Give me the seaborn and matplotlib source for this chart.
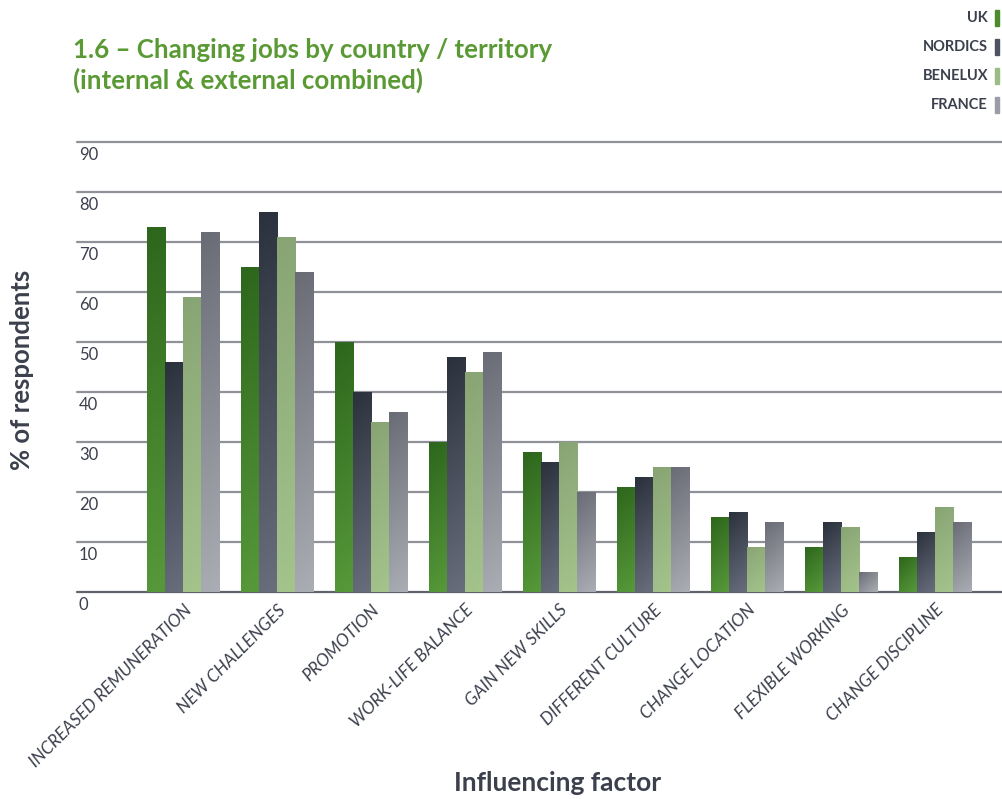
import numpy as np
import pandas as pd
import matplotlib
matplotlib.use("Agg")
import matplotlib.pyplot as plt
from matplotlib.colors import LinearSegmentedColormap, to_rgb
import seaborn as sns

# ---- data -------------------------------------------------------------
factors = [
    "INCREASED REMUNERATION", "NEW CHALLENGES", "PROMOTION",
    "WORK-LIFE BALANCE", "GAIN NEW SKILLS", "DIFFERENT CULTURE",
    "CHANGE LOCATION", "FLEXIBLE WORKING", "CHANGE DISCIPLINE",
]
countries = ["UK", "NORDICS", "BENELUX", "FRANCE"]
uk      = [73, 65, 50, 30, 28, 21, 15, 9, 7]
nordics = [46, 76, 40, 47, 26, 23, 16, 14, 12]
benelux = [59, 71, 34, 44, 30, 25, 9, 13, 17]
france  = [72, 64, 36, 48, 20, 25, 14, 4, 14]
y_ticks = [0, 10, 20, 30, 40, 50, 60, 70, 80, 90]

# ---- styling ----------------------------------------------------------
grad_top = {"UK": "#2d661c", "NORDICS": "#2b313c", "BENELUX": "#88a474", "FRANCE": "#696c75"}
grad_bot = {"UK": "#57993a", "NORDICS": "#686e7c", "BENELUX": "#a4c48c", "FRANCE": "#abadb4"}
key_col = {"UK": "#4b8b2b", "NORDICS": "#4d5361", "BENELUX": "#9cbc86", "FRANCE": "#9b9da6"}
text_dark = "#3b404c"
title_green = "#5a9a34"

sns.set_theme(style="white")
plt.rcParams["font.family"] = ["Lato", "DejaVu Sans"]

df = pd.DataFrame({
    "factor": np.repeat(factors, len(countries)),
    "country": countries * len(factors),
    "value": np.ravel(np.column_stack([uk, nordics, benelux, france])),
})

fig = plt.figure(figsize=(10.03, 7.99), dpi=100)
ax = fig.add_axes([0.0768, 0.259, 0.9232, 0.5645])

sns.barplot(data=df, x="factor", y="value", hue="country", order=factors,
            hue_order=countries, palette=key_col, width=0.77, gap=0,
            dodge=True, legend=False, ax=ax, zorder=3, linewidth=0)

xlim = (-1.13, 8.72)
ylim = (0, 90.2)
ax.set_xlim(*xlim)
ax.set_ylim(*ylim)

# gradient fill for each bar, dark at the top-left corner, light at the bottom
fig.canvas.draw()
for country, cont in zip(countries, ax.containers):
    cmap = LinearSegmentedColormap.from_list(
        country, [to_rgb(grad_top[country]), to_rgb(grad_bot[country])])
    for bar in cont:
        x0, w, h = bar.get_x(), bar.get_width(), bar.get_height()
        if h <= 0:
            continue
        p0 = ax.transData.transform((x0, 0))
        p1 = ax.transData.transform((x0 + w, h))
        wp, hp = abs(p1[0] - p0[0]), abs(p1[1] - p0[1])
        ny, nx = 80, 20
        yy, xx = np.mgrid[0:ny, 0:nx]
        t = (yy / (ny - 1) * hp + (xx / (nx - 1)) * wp * 0.9) / (hp + wp * 0.9)
        im = ax.imshow(t, cmap=cmap, vmin=0, vmax=1, aspect="auto",
                       extent=[x0, x0 + w, 0, h], origin="upper",
                       interpolation="bilinear", zorder=4)
        im.set_clip_path(bar)
ax.set_xlim(*xlim)
ax.set_ylim(*ylim)

# horizontal rules with labels sitting just below each line
for v in y_ticks:
    ax.axhline(v, color="#5f636d" if v == 0 else "#8e9198", lw=1.6, zorder=2,
               clip_on=False)
    ax.text(0.002, v - 1.0, str(v), transform=ax.get_yaxis_transform(),
            ha="left", va="top", fontsize=12, color=text_dark)

for s in ax.spines.values():
    s.set_visible(False)
ax.set_yticks([])
ax.tick_params(axis="x", length=0, pad=7)
ax.set_xticks(range(len(factors)))
ax.set_xticklabels(factors, rotation=45, ha="right", rotation_mode="anchor",
                   fontsize=12.5, style="italic", color=text_dark)
ax.set_xlabel("")
ax.set_ylabel("")
fig.text(558 / 1003, 1 - 783 / 799, "Influencing factor", ha="center",
         va="center", fontsize=19, fontweight="bold", color=text_dark)
fig.text(0.022, 0.537, "% of respondents", rotation=90, ha="center",
         va="center", fontsize=18.5, fontweight="bold", color=text_dark)

# title
fig.text(0.073, 0.953, "1.6 – Changing jobs by country / territory\n"
         "(internal & external combined)", ha="left", va="top",
         fontsize=18.6, fontweight="bold", color=title_green,
         linespacing=1.28)

# key at the top right
key_y = [18, 47, 76, 105]
for c, yp in zip(countries, key_y):
    yf = 1 - yp / 799
    fig.text(988 / 1003, yf, c, ha="right", va="center", fontsize=10.5,
             fontweight="bold", color=text_dark)
    fig.patches.append(plt.Rectangle((995 / 1003, yf - 8 / 799), 4 / 1003,
                                     16 / 799, transform=fig.transFigure,
                                     color=key_col[c], figure=fig))

fig.savefig("out.png", dpi=100)
